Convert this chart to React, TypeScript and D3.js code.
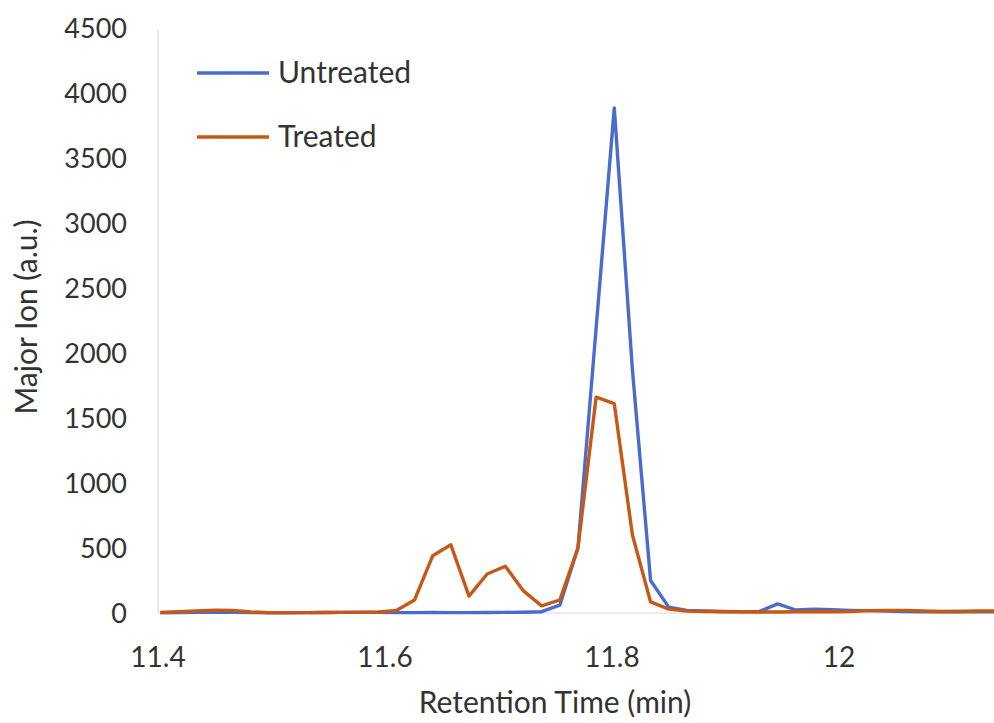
import React from "react";
import * as d3 from "d3";

const times = [
  11.402, 11.418, 11.434, 11.45, 11.466, 11.482, 11.498, 11.514, 11.53, 11.546,
  11.562, 11.578, 11.594, 11.61, 11.626, 11.642, 11.658, 11.674, 11.69, 11.706,
  11.722, 11.738, 11.754, 11.77, 11.786, 11.802, 11.818, 11.834, 11.85, 11.866,
  11.882, 11.898, 11.914, 11.93, 11.946, 11.962, 11.978, 11.994, 12.01, 12.026,
  12.042, 12.058, 12.074, 12.09, 12.106, 12.122, 12.138, 12.154,
];

const untreated = [
  2, 3, 5, 6, 5, 3, 2, 2, 3, 4,
  5, 6, 5, 3, 3, 4, 3, 3, 4, 5,
  6, 10, 60, 500, 2190, 3885, 1870, 250, 45, 20,
  15, 12, 10, 12, 70, 23, 30, 25, 20, 18,
  15, 12, 10, 10, 12, 10, 10, 10,
];

const treated = [
  5, 10, 15, 22, 20, 8, 3, 3, 3, 4,
  5, 5, 8, 20, 100, 440, 525, 130, 300, 360,
  170, 55, 100, 500, 1660, 1610, 600, 85, 30, 15,
  12, 10, 10, 8, 8, 10, 12, 10, 12, 18,
  20, 20, 15, 12, 12, 15, 15, 15,
];

const yTicks = [0, 500, 1000, 1500, 2000, 2500, 3000, 3500, 4000, 4500];
const xTicks = [11.4, 11.6, 11.8, 12];
const xTickLabels = ["11.4", "11.6", "11.8", "12"];

const seriesNames = ["Untreated", "Treated"];
const seriesColors = ["#4A6CCB", "#C45A16"];

const W = 994;
const H = 723;
const FONT = "Lato, 'Open Sans', sans-serif";
const TEXT = "#333333";

export default function App() {
  const x = d3.scaleLinear().domain([11.4, 12.2]).range([158, 1066]);
  const y = d3.scaleLinear().domain([0, 4500]).range([613, 28]);

  const line = d3
    .line<number>()
    .x((_, i) => x(times[i]))
    .y((d) => y(d));

  const series = [untreated, treated];

  return (
    <svg
      width={W}
      height={H}
      style={{ position: "fixed", left: 0, top: 0, background: "#fff" }}
      fontFamily={FONT}
    >
      <rect x={0} y={0} width={W} height={H} fill="#fff" />
      {/* axes lines */}
      <line x1={158} x2={158} y1={y(4500) + 2} y2={y(0)} stroke="#d4d4dc" strokeWidth={1} />
      <line x1={158} x2={W} y1={y(0)} y2={y(0)} stroke="#d9d9d9" strokeWidth={1} />

      {/* y tick labels */}
      {yTicks.map((t) => (
        <text
          key={t}
          x={127}
          y={y(t) + 10}
          textAnchor="end"
          fontSize={27}
          fill={TEXT}
        >
          {t}
        </text>
      ))}

      {/* x tick labels */}
      {xTicks.map((t, i) => (
        <text
          key={t}
          x={x(t)}
          y={667}
          textAnchor="middle"
          fontSize={28}
          fill={TEXT}
        >
          {xTickLabels[i]}
        </text>
      ))}

      {/* lines */}
      {series.map((s, i) => (
        <path
          key={i}
          d={line(s) || ""}
          fill="none"
          stroke={seriesColors[i]}
          strokeWidth={3.4}
          strokeLinejoin="round"
        />
      ))}

      {/* axis titles */}
      <text x={555} y={713} textAnchor="middle" fontSize={30} fill={TEXT}>
        Retention Time (min)
      </text>
      <text
        transform="translate(37,317) rotate(-90)"
        textAnchor="middle"
        fontSize={30}
        fill={TEXT}
      >
        Major Ion (a.u.)
      </text>

      {/* legend */}
      {seriesNames.map((n, i) => (
        <g key={n} transform={`translate(0, ${73 + i * 64})`}>
          <line x1={197} x2={269} y1={0} y2={0} stroke={seriesColors[i]} strokeWidth={3.4} />
          <text x={278} y={10} fontSize={30} fill={TEXT}>
            {n}
          </text>
        </g>
      ))}
    </svg>
  );
}
